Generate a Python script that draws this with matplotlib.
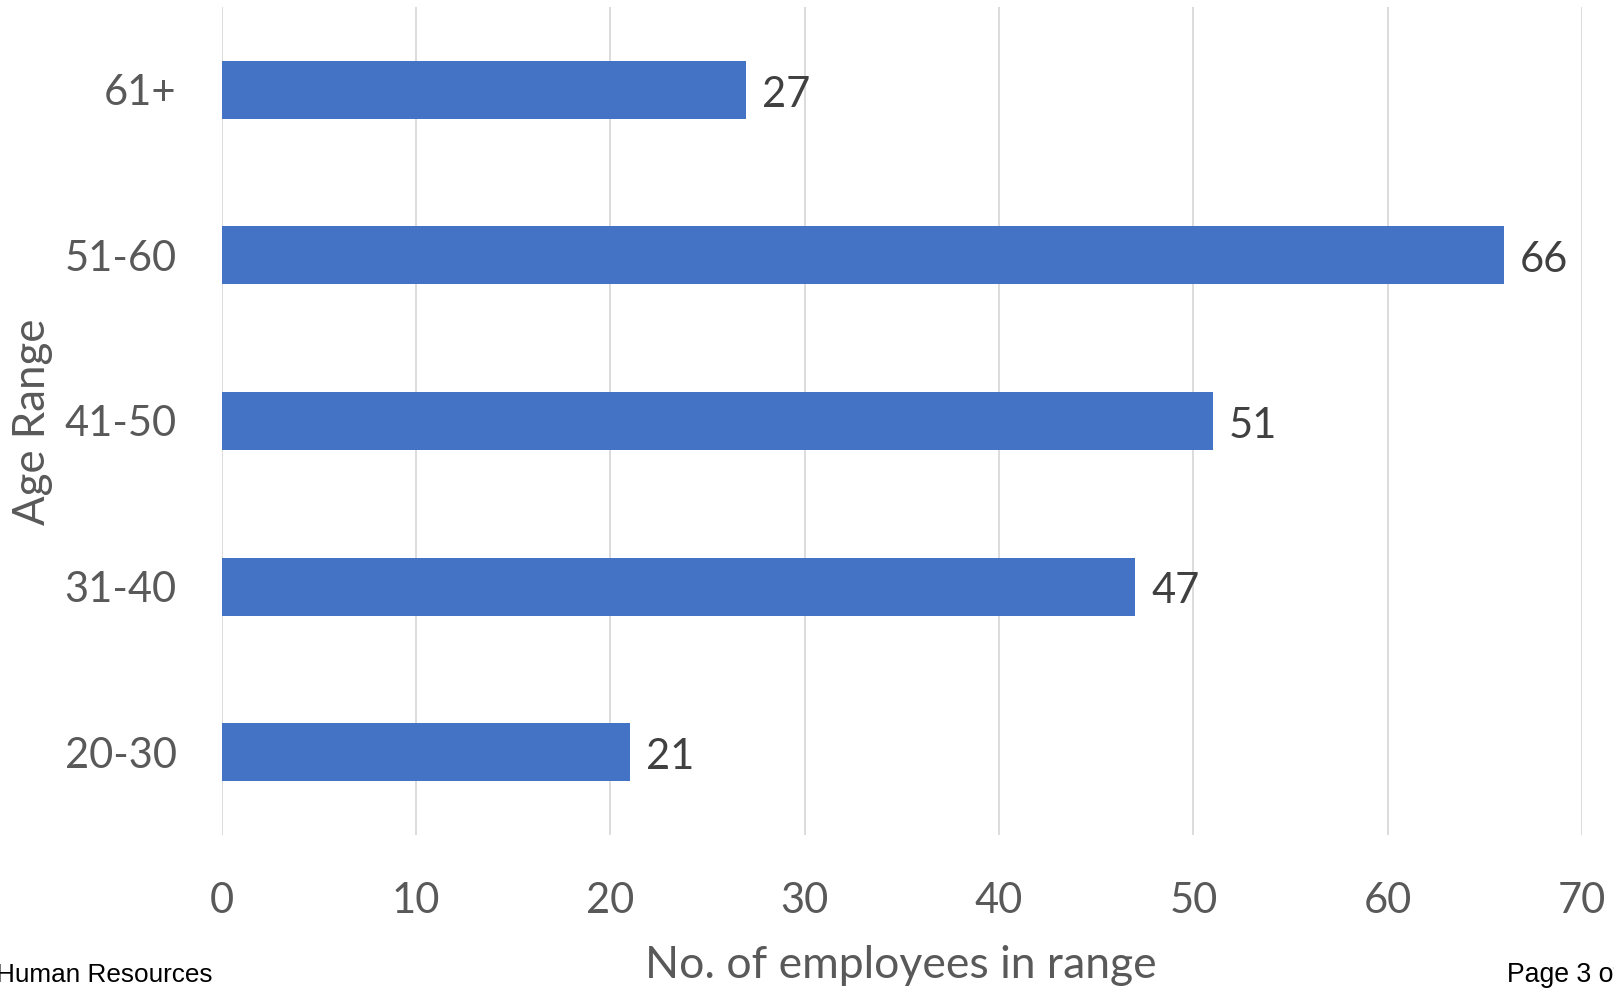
import matplotlib
matplotlib.use("Agg")
import matplotlib.pyplot as plt

age_ranges = ["20-30", "31-40", "41-50", "51-60", "61+"]
employees = [21, 47, 51, 66, 27]
x_ticks = [0, 10, 20, 30, 40, 50, 60, 70]

plt.rcParams['font.family'] = ['Lato', 'DejaVu Sans']

W, H = 1614, 988
fig = plt.figure(figsize=(W / 100, H / 100), dpi=100)
ax = fig.add_axes([221.7 / W, 1 - 835 / H, (1582 - 221.7) / W, (835 - 7) / H])

bar_color = "#4472C4"
ax.barh(range(len(age_ranges)), employees, height=0.35, color=bar_color, zorder=3)

for i, v in enumerate(employees):
    ax.annotate(str(v), (v, i), xytext=(11.5, -3.5), textcoords="offset points",
                va="center", ha="left", fontsize=30, color="#404040")

ax.set_xlim(0, 70)
ax.set_ylim(-0.5, 4.5)
ax.set_xticks(x_ticks)
ax.set_yticks(range(len(age_ranges)))
ax.set_yticklabels(age_ranges)
ax.tick_params(axis="both", length=0, labelsize=30, labelcolor="#595959")
ax.tick_params(axis="y", pad=32.5)
ax.tick_params(axis="x", pad=33.7)
ax.grid(axis="x", color="#d9d9d9", linewidth=1.3, zorder=0)
for s in ax.spines.values():
    s.set_visible(False)

fig.text(901 / W, 1 - 965 / H, "No. of employees in range", ha="center", va="center",
         fontsize=32, color="#595959")
fig.text(33 / W, 1 - 422 / H, "Age Range", ha="center", va="center", rotation=90,
         fontsize=31.5, color="#595959")

fig.text(-4 / W, 1 - 982 / H, "Human Resources", ha="left", va="baseline",
         fontsize=18.8, color="black", family="Liberation Sans")
fig.text(1507 / W, 1 - 982 / H, "Page 3 of", ha="left", va="baseline",
         fontsize=19.2, color="black", family="Liberation Sans")

fig.savefig("out.png", dpi=100, facecolor="white")
